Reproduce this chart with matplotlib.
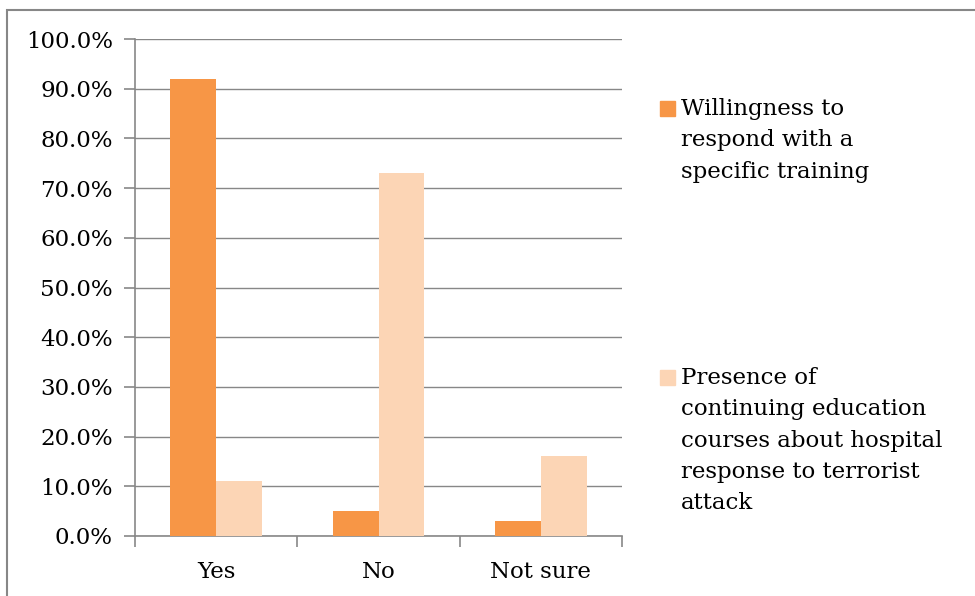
import matplotlib
matplotlib.use('Agg')
import matplotlib.pyplot as plt
from matplotlib.patches import Rectangle
from matplotlib.ticker import FuncFormatter
import numpy as np

categories = ['Yes', 'No', 'Not sure']
willingness = [0.92, 0.05, 0.03]
presence = [0.11, 0.73, 0.16]
series_names = ['Willingness to\nrespond with a\nspecific training',
                'Presence of\ncontinuing education\ncourses about hospital\nresponse to terrorist\nattack']
colors = ['#F79646', '#FCD5B5']

plt.rcParams['font.family'] = ['DejaVu Serif']
W, H = 975, 596
fs = 16.5
fig = plt.figure(figsize=(W / 100, H / 100), dpi=100)
ax = fig.add_axes([135 / W, 1 - 536 / H, (622 - 135) / W, (536 - 39) / H])

x = np.arange(len(categories))
bw = 0.283
ax.bar(x - bw / 2, willingness, bw, color=colors[0], zorder=3)
ax.bar(x + bw / 2, presence, bw, color=colors[1], zorder=3)

ax.set_xlim(-0.5, 2.5)
ax.set_ylim(0, 1.0)
ax.set_yticks(np.arange(0, 1.01, 0.1))
ax.yaxis.set_major_formatter(FuncFormatter(lambda v, p: '{:.1f}%'.format(v * 100)))
ax.set_xticks([-0.5, 0.5, 1.5, 2.5], minor=False)
ax.set_xticklabels([])
ax.set_xticks(x, minor=True)
ax.set_xticklabels(categories, minor=True)
ax.tick_params(axis='x', which='minor', length=0, labelsize=fs, pad=18)
ax.tick_params(axis='x', which='major', length=8, color='#878787', width=1.2)
ax.tick_params(axis='y', length=8, color='#878787', width=1.2, labelsize=fs, pad=8)

ax.grid(axis='y', color='#878787', linewidth=1.0, zorder=0)
for s in ['top', 'right']:
    ax.spines[s].set_visible(False)
for s in ['left', 'bottom']:
    ax.spines[s].set_color('#878787')
    ax.spines[s].set_linewidth(1.2)

# legend drawn by hand to match the spread-out layout
for i, (name, top) in enumerate(zip(series_names, [101, 370])):
    fig.add_artist(Rectangle((660 / W, 1 - (top + 15) / H), 15 / W, 15 / H,
                             transform=fig.transFigure, color=colors[i]))
    fig.text(681 / W, 1 - (top - 3) / H, name, fontsize=fs, va='top', ha='left',
             linespacing=1.55)

fig.add_artist(Rectangle((7 / W, -0.1), 1.2, 1 - 10 / H + 0.1,
                         transform=fig.transFigure, fill=False,
                         edgecolor='#878787', linewidth=1.5))

fig.savefig('out.png', dpi=100)
